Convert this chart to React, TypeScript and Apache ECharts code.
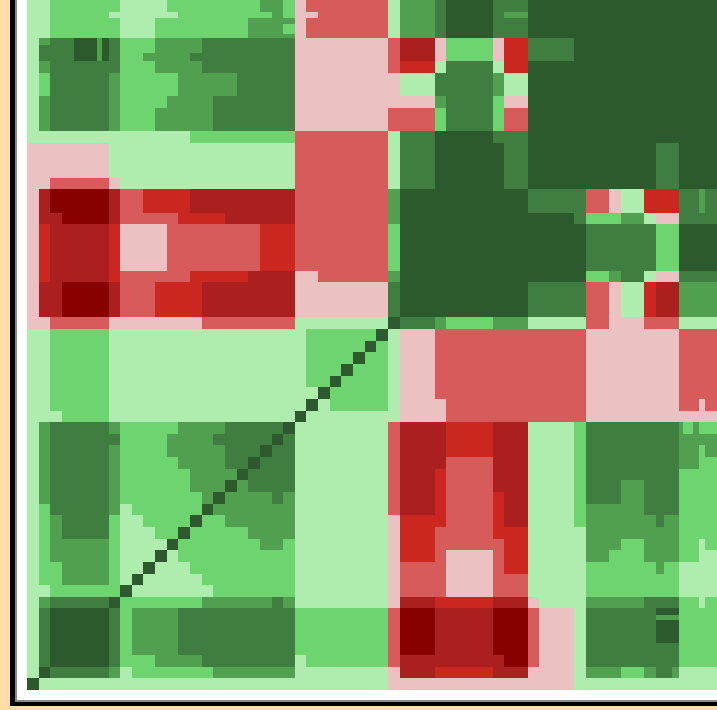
import React, { useEffect, useRef } from "react";
import * as echarts from "echarts";

// Boundaries of the matrix variables along both axes (cell units, the last ones are narrower).
const bandEdges = [
  0, 1, 2, 3, 4, 5, 6, 6.41, 7, 8, 9, 10, 11, 12, 13, 14, 15, 16, 17, 18, 19, 20, 21, 22, 23, 24, 25, 26, 27, 28, 29,
  30, 31, 32, 33, 34, 35, 36, 37, 38, 39, 40, 41, 42, 43, 44, 45, 46, 47, 48, 49, 50, 51, 52, 53, 54, 54.68, 55.39,
  56, 56.31, 57.17, 57.68, 58.22, 59.25,
];

const levelColors: Record<string, string> = {
  a: "#2c5a2c",
  b: "#3f7d40",
  c: "#51a050",
  d: "#6dd470",
  e: "#aeedae",
  f: "#ecc1c1",
  g: "#d85b5b",
  h: "#c9271f",
  i: "#ac1f1f",
  j: "#880000",
};

// One string per band, bottom to top: "<start of run><level>".
const matrixRows = [
  "0a 1e 31f 47e",
  "0e 1a 2b 7c 8e 9d 16c 23e 31f 32i 35h 40i 43f 47e 48c 51d 53c 54b 55.39c 56e",
  "0e 1b 2a 7b 8d 11c 15b 23e 24d 31g 32i 41j 43g 44f 47e 48b 56d",
  "0e 1b 2a 7b 8d 9c 13b 23d 31g 32j 35i 40j 43g 44f 47e 48b 56d",
  "0e 1b 2a 7b 8d 9c 13b 23d 31g 32j 35i 40j 43g 44f 47e 48b 54a 56d",
  "0e 1b 2a 7b 8d 9c 13b 23d 31g 32j 35i 40j 43g 44f 47e 48b 54a 56d",
  "0e 1b 2a 7b 8d 9c 13b 23d 31g 32j 35i 40j 43g 44f 47e 48b 54c 56d",
  "0e 1b 2a 7b 8d 9c 13b 23d 31g 32j 35i 40j 43g 44f 47e 48b 54a 56d",
  "0e 1c 2b 7a 8d 15c 21b 22c 23e 31f 32i 35h 40i 43f 44e 48c 53b 56d 57.68e 58.22d",
  "0e 2d 8a 9e 16d 23e 31f 32g 36f 40g 43e 48d 56e",
  "0e 1d 3c 7d 8e 9a 10e 15d 23e 31f 32g 36f 40g 43e 48d 56e",
  "0e 1d 3c 7d 8e 10a 11e 14d 23e 31f 32g 36f 40g 41h 43e 48d 54c 54.68d 56e",
  "0e 1d 2c 7d 8e 11a 12e 13d 23e 31f 32h 35g 36f 40g 41h 43e 48c 50d 53c 56d 57.68e",
  "0e 1d 2c 7d 8e 12a 13d 20c 22d 23e 31f 32h 35g 41h 43e 48c 51d 53c 56d 57.68e 58.22d",
  "0e 1d 2c 3b 7d 8e 11d 13a 14d 19c 23e 31f 32h 35g 40h 43e 48c 56d",
  "0e 1d 2c 3b 7d 8e 10d 14a 15d 17c 23e 31f 32h 36g 40h 41i 43e 47d 48c 54b 54.68c 56d",
  "0e 1d 2b 7c 8e 9d 15a 16c 23e 31g 32i 35h 36g 40h 41i 43e 47d 48c 53b 56d",
  "0e 1c 2b 7c 8d 15c 16a 17c 21b 22c 23e 31g 32i 35h 36g 40h 41i 43e 47d 48b 51c 53b 56d",
  "0e 1c 2b 7c 8d 14c 17a 18c 19b 23e 31g 32i 35h 36g 40i 43e 47d 48b 51c 53b 56d",
  "0e 1c 2b 7c 8d 14c 18a 19b 23e 31g 32i 35h 36g 40i 43e 47d 48b 56d",
  "0e 1c 2b 7c 8d 13c 17b 19a 20b 23e 31g 32i 36g 40i 43e 47d 48b 56c 57.68d",
  "0e 1c 2b 7c 8d 12c 17b 20a 21b 23e 31g 32i 36h 40i 43e 47d 48b 56c 57.68d 58.22c",
  "0e 1c 2b 8d 12c 16b 21a 22b 23e 31g 32i 36h 40i 43e 47d 48b 56c",
  "0e 1c 2b 7c 8d 13c 17b 22a 23e 31g 32i 36h 40i 43e 47d 48b 56c 56.31d 57.17c 57.68d",
  "0e 3d 7e 23a 24e 32f 36g 48f",
  "0e 2d 7e 24a 25e 26d 31e 32f 36g 48f 56g 57.68f 58.22g",
  "0e 2d 7e 25a 26d 31e 32f 35g 48f 56g",
  "0e 2d 7e 24d 26a 27d 31e 32f 35g 48f 56g",
  "0e 2d 7e 24d 27a 28d 31e 32f 35g 48f 56g",
  "0e 2d 7e 24d 28a 29d 31e 32f 35g 48f 56g",
  "0e 2d 7e 24d 29a 30d 31e 32f 35g 48f 56g",
  "0e 2d 7e 24d 30a 31e 32f 35g 48f 56g",
  "0f 2g 7f 15g 23e 31a 32b 35c 36d 40c 43e 48g 50f 53g 56e",
  "0f 1i 3j 7i 8g 11h 15i 23f 31b 32a 43b 48g 50f 51e 53h 54i 56c",
  "0f 1i 3j 7i 8g 11h 15i 23f 31b 32a 43b 48g 50f 51e 53h 54i 56c",
  "0f 1i 3j 7i 8g 11h 15i 23f 31b 32a 43b 48g 50f 51e 53h 54i 56c",
  "0f 1h 2i 7h 8g 14h 19i 23f 25g 31c 32a 48d 50c 51b 53e 54f 56b",
  "0f 1h 2i 7h 8f 12g 20h 23g 31d 32a 48b 54d 56a",
  "0f 1h 2i 7h 8f 12g 20h 23g 31d 32a 48b 54d 56a",
  "0f 1h 2i 7h 8f 12g 20h 23g 31d 32a 48b 54d 56a",
  "0f 1h 2i 7h 8f 12g 20h 23g 31d 32a 48b 54d 56a",
  "0f 1i 3j 7i 8g 13h 17i 23g 31c 32a 47b 48d 51c 53e 54f 56b",
  "0f 1i 2j 7i 8g 10h 14i 23g 31c 32a 43b 48g 50f 51e 53h 56b 57.68c 58.22b",
  "0f 1i 2j 7i 8g 10h 14i 23g 31c 32a 43b 48g 50f 51e 53h 56b 57.68c 58.22b",
  "0f 2g 7f 8e 23g 31e 32b 35a 41b 43a 54b 56a",
  "0f 7e 23g 31e 32b 35a 41b 43a 54b 56a",
  "0f 7e 23g 31e 32b 35a 41b 43a 54b 56a",
  "0f 7e 23g 31e 32b 35a 41b 43a 54b 56a",
  "0e 14d 23g 31e 32b 35a 40b 43a",
  "0e 1c 2b 7c 8d 11c 16b 23f 31g 35d 36b 40d 41g 43a",
  "0e 1c 2b 7c 8d 11c 16b 23f 31g 35d 36b 40d 41g 43a",
  "0e 1c 2b 7c 8d 12c 16b 23f 35c 36b 40d 41f 43a",
  "0e 1d 2b 7c 8d 13c 18b 23f 32e 35b 40c 41e 43a",
  "0e 1d 2b 7c 8d 13c 18b 23f 32e 35b 40c 41e 43a",
  "0e 1c 2b 8d 11c 15b 23f 31g 32h 35e 36b 40e 41h 43a",
  "0e 1b 4a 6c 6.41a 7b 8d 10c 14b 23f 31g 32i 35f 36d 40f 41h 43b 47a",
  "0e 1b 4a 6c 6.41a 7b 8d 11c 15b 23f 31g 32i 35f 36d 40f 41h 43b 47a",
  "0e 1c 2b 4a 6c 6.41a 7b 8d 11c 15b 23f 31g 32i 35f 36d 40f 41h 43b 47a",
  "0e 2d 8e 11d 19c 23f 24g 31e 32c 35b 36a 40b 43a",
  "0e 2d 8e 11d 19c 22d 23f 24g 31e 32c 35b 36a 40b 43a",
  "0e 2d 8e 11d 19c 23f 24g 31e 32c 35b 36a 40b 43a",
  "0e 2d 7e 13d 21c 22d 23f 25g 31e 32c 35b 36a 40b 41c 43a",
  "0e 2d 8e 12d 20c 22d 23f 24g 31e 32c 35b 36a 40b 43a",
];

const AXIS_END = bandEdges[bandEdges.length - 1];

function buildRuns() {
  const runs: (number | string)[][] = [];
  matrixRows.forEach((row, band) => {
    const tokens = row.split(" ");
    tokens.forEach((token, i) => {
      const start = parseFloat(token);
      const level = token[token.length - 1];
      const end = i + 1 < tokens.length ? parseFloat(tokens[i + 1]) : AXIS_END;
      runs.push([start, end, bandEdges[band], bandEdges[band + 1], level]);
    });
  });
  return runs;
}

export default function App() {
  const ref = useRef<HTMLDivElement>(null);

  useEffect(() => {
    if (!ref.current) return;
    document.body.style.margin = "0";
    document.body.style.overflow = "hidden";
    const chart = echarts.init(ref.current, undefined, { renderer: "svg" });
    chart.setOption({
      animation: false,
      backgroundColor: "#ffdcaa",
      grid: { left: 27, top: 0, width: 690, height: 690, containLabel: false },
      xAxis: { type: "value", min: 0, max: AXIS_END, show: false },
      yAxis: { type: "value", min: 0, max: AXIS_END, show: false },
      tooltip: { show: false },
      graphic: [
        { type: "rect", z: 0, silent: true, shape: { x: 10, y: -10, width: 720, height: 716 }, style: { fill: "#000000" } },
        { type: "rect", z: 0, silent: true, shape: { x: 15, y: -10, width: 720, height: 712 }, style: { fill: "#8a8a8a" } },
        { type: "rect", z: 0, silent: true, shape: { x: 17, y: -10, width: 720, height: 710 }, style: { fill: "#ffffff" } },
      ],
      series: [
        {
          type: "custom",
          z: 5,
          clip: true,
          silent: true,
          encode: { x: [0, 1], y: [2, 3] },
          data: buildRuns(),
          renderItem: (_params: any, api: any) => {
            const p0 = api.coord([api.value(0), api.value(3)]);
            const p1 = api.coord([api.value(1), api.value(2)]);
            const x = Math.round(p0[0]);
            const y = Math.round(p0[1]);
            return {
              type: "rect",
              shape: { x, y, width: Math.round(p1[0]) - x, height: Math.round(p1[1]) - y },
              style: { fill: levelColors[api.value(4) as string] },
            };
          },
          dimensions: [
            { name: "x0", type: "number" },
            { name: "x1", type: "number" },
            { name: "y0", type: "number" },
            { name: "y1", type: "number" },
            { name: "level", type: "ordinal" },
          ],
        },
      ],
    });
    return () => chart.dispose();
  }, []);

  return <div ref={ref} style={{ width: 717, height: 710 }} />;
}
